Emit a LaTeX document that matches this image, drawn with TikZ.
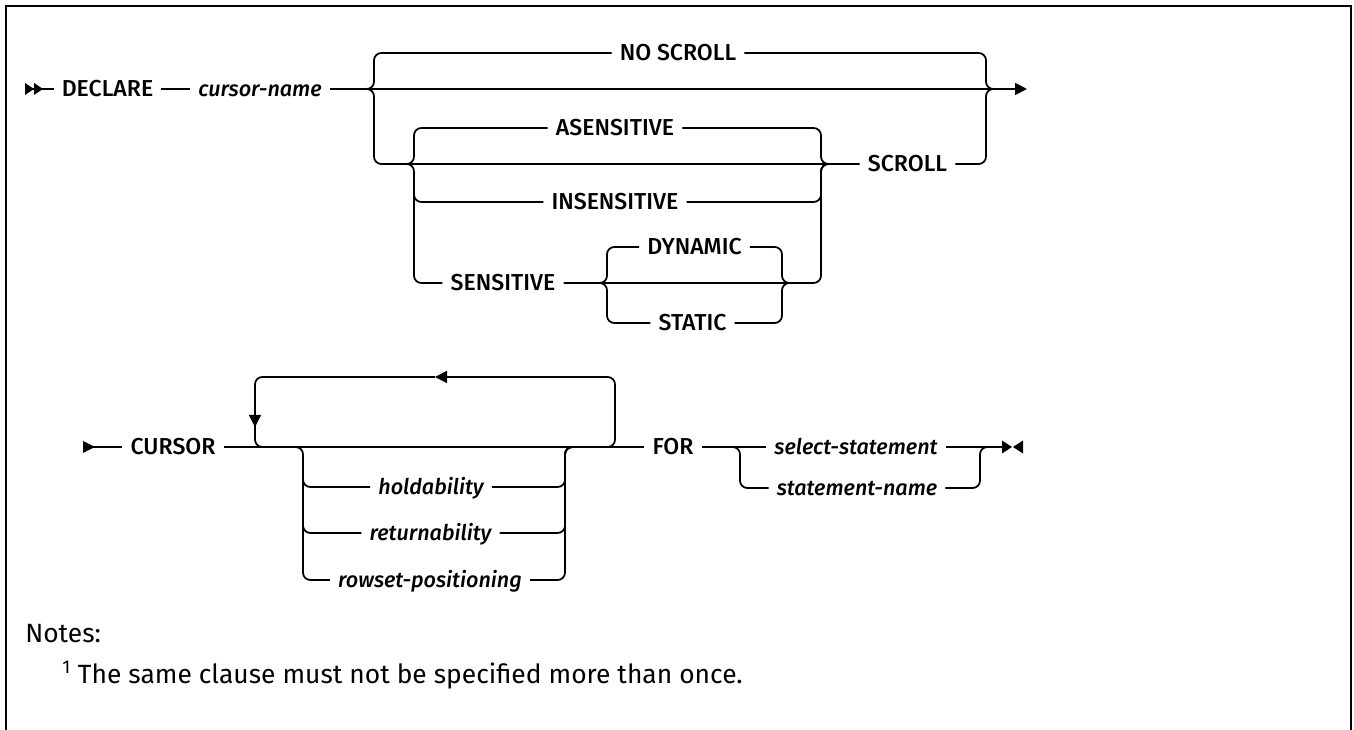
\documentclass[tikz,border=0pt]{standalone}
\usepackage{fontspec}
\setmainfont{Fira Sans}
\newfontfamily\rrfont{Fira Sans}[UprightFont={* Medium}, ItalicFont={* Medium Italic}]
\usetikzlibrary{arrows.meta}

\tikzset{
  rr/.style={line width=1.3pt},
  rc/.style={rounded corners=5.5pt},
  kw/.style={font=\rrfont\fontsize{17.3}{20}\selectfont, inner xsep=6pt, inner ysep=0pt, text height=11.8pt, text depth=0pt},
  var/.style={kw, font=\rrfont\itshape\fontsize{16.2}{20}\selectfont},
  note/.style={font=\fontsize{19.8}{23}\selectfont, inner sep=0pt},
  tip/.style={-{Triangle[length=9pt,width=9pt]}}
}

\begin{document}
\begin{tikzpicture}[x=0.75pt,y=0.75pt,yscale=-1,xscale=1]
\useasboundingbox (0,0) rectangle (1354,730);
%Frame
\draw [line width=1.5pt] (6,730) -- (6,6) -- (1351,6) -- (1351,730);

% Text Node
\node [kw] (declare) at (107.5,89) {DECLARE};
\node [var] (cname) at (260,89) {cursor-name};
\node [kw] (noscroll) at (678,53) {NO SCROLL};
\node [kw] (asens) at (615,128) {ASENSITIVE};
\node [kw] (insens) at (615,202) {INSENSITIVE};
\node [kw] (sens) at (503,283) {SENSITIVE};
\node [kw] (scroll) at (907.5,164) {SCROLL};
\node [kw] (dynamic) at (694.5,247) {DYNAMIC};
\node [kw] (static) at (692.5,323) {STATIC};

\coordinate (s1) at (25,89);
\coordinate (j1) at (374,89);
\coordinate (j2) at (414,164);
\coordinate (j3) at (607,283);
\coordinate (m1) at (986,89);
\coordinate (m2) at (821,164);
\coordinate (m3) at (782,283);
\coordinate (e1) at (1027,89);

%Straight Lines
\fill (s1) ++(0,-6) -- ++(9,6) -- ++(-9,6) -- cycle;
\fill (s1) ++(9,-6) -- ++(9,6) -- ++(-9,6) -- cycle;
\draw [rr] (s1) -- (declare);
\draw [rr] (declare) -- (cname);
\draw [rr,tip] (cname) -- (e1);
\draw [rr,rc] (j1) ++(-8,0) -- (j1) |- (noscroll);
\draw [rr,rc] (noscroll) -| (m1) -- ++(8,0);
\draw [rr,rc] (j1) ++(-8,0) -- (j1) |- (j2) -- (scroll);
\draw [rr,rc] (scroll) -| (m1) -- ++(8,0);
\draw [rr,rc] (j2) ++(-8,0) -- (j2) |- (asens);
\draw [rr,rc] (j2) ++(-8,0) -- (j2) |- (sens);
\draw [rr,rc] (j2) ++(0,26) |- (insens);
\draw [rr,rc] (asens) -| (m2) -- ++(8,0);
\draw [rr,rc] (insens) -| (m2) -- ++(8,0);
\draw [rr,rc] (sens) -- (m3) -| (m2) -- ++(8,0);
\draw [rr,rc] (j3) ++(-8,0) -- (j3) |- (dynamic);
\draw [rr,rc] (j3) ++(-8,0) -- (j3) |- (static);
\draw [rr,rc] (dynamic) -| (m3) -- ++(8,0);
\draw [rr,rc] (static) -| (m3) -- ++(8,0);

% Text Node
\node [kw] (cursor) at (173,447) {CURSOR};
\node [var] (hold) at (431,487) {holdability};
\node [var] (ret) at (430.5,533) {returnability};
\node [var] (rowset) at (430,580) {rowset-positioning};
\node [kw] (forkw) at (673,447) {FOR};
\node [var] (selst) at (856,447) {select-statement};
\node [var] (stname) at (857,488) {statement-name};

\coordinate (s2) at (83,447);
\coordinate (lpL) at (255,377);
\coordinate (lpR) at (615,377);
\coordinate (lpA) at (435,377);
\coordinate (j4) at (303,447);
\coordinate (m4) at (565,447);
\coordinate (j5) at (740,447);
\coordinate (m5) at (980,447);
\coordinate (e2) at (1002,447);

%Straight Lines
\fill (s2) ++(0,-6) -- ++(12,6) -- ++(-12,6) -- cycle;
\draw [rr] (s2) -- (cursor);
\draw [rr] (cursor) -- (forkw);
\draw [rr,rc,tip] (600,447) -- (lpR |- cursor) -- (lpR) -- (lpA);
\draw [rr,rc,tip] (lpA) -- (lpL) -- (255,427);
\draw [rr,rc] (255,420) -- (lpL |- cursor) -- (270,447);
\draw [rr,rc] (j4) ++(-8,0) -- (j4) |- (rowset);
\draw [rr,rc] (j4) ++(0,28) |- (hold);
\draw [rr,rc] (j4) ++(0,74) |- (ret);
\draw [rr,rc] (hold) -| (m4) -- ++(10,0);
\draw [rr,rc] (ret) -| (m4) -- ++(10,0);
\draw [rr,rc] (rowset) -| (m4) -- ++(10,0);
\draw [rr] (forkw) -- (selst);
\draw [rr] (selst) -- (e2);
\draw [rr,rc] (j5) ++(-8,0) -- (j5) |- (stname);
\draw [rr,rc] (stname) -| (m5) -- ++(8,0);
\fill (e2) ++(0,-6.5) -- ++(10,6.5) -- ++(-10,6.5) -- cycle;
\fill (e2) ++(21,-6.5) -- ++(-10,6.5) -- ++(10,6.5) -- cycle;

% Text Node
\node [note, anchor=base west] (notes) at (25,643) {Notes:};
\node [note, anchor=base west] (fn) at (62,684) {\textsuperscript{1} The same clause must not be specified more than once.};
\end{tikzpicture}
\end{document}
